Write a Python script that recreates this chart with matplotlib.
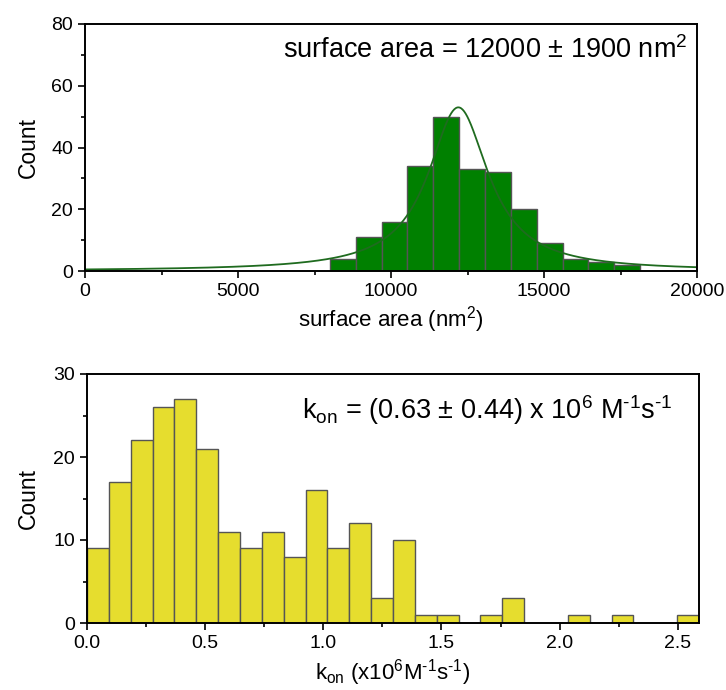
import numpy as np
import matplotlib
matplotlib.use('Agg')
import matplotlib.pyplot as plt
from matplotlib.ticker import MultipleLocator

plt.rcParams['font.family'] = ['Liberation Sans', 'DejaVu Sans']
plt.rcParams['mathtext.default'] = 'regular'

# top histogram: surface area
area_start = 8000
area_width = 845
area_counts = [4, 11, 16, 34, 50, 33, 32, 20, 9, 4, 3, 2]
# Lorentz fit parameters
fit_xc = 12200
fit_w = 1200
fit_amp = 53

# bottom histogram: k_on
kon_width = 0.0925
kon_counts = [9, 17, 22, 26, 27, 21, 11, 9, 11, 8, 16, 9, 12, 3, 10,
              1, 1, 0, 1, 3, 0, 0, 1, 0, 1, 0, 0, 1]

fig = plt.figure(figsize=(7.26, 6.9), dpi=100)
ax1 = fig.add_axes([85/726, 1-271/690, 612/726, 247/690])
ax2 = fig.add_axes([87/726, 1-623/690, 612/726, 249/690])

# --- top panel
left = area_start + area_width*np.arange(len(area_counts))
ax1.bar(left, area_counts, width=area_width, align='edge',
        color='#008000', edgecolor='#555555', linewidth=1)
xs = np.linspace(0, 20000, 800)
ys = fit_amp*fit_w**2/((xs-fit_xc)**2 + fit_w**2)
ax1.plot(xs, ys, color='#1f6b1f', lw=1.3)
ax1.set_xlim(0, 20000)
ax1.set_ylim(0, 80)
ax1.xaxis.set_major_locator(MultipleLocator(5000))
ax1.xaxis.set_minor_locator(MultipleLocator(2500))
ax1.yaxis.set_major_locator(MultipleLocator(20))
ax1.yaxis.set_minor_locator(MultipleLocator(10))
ax1.set_xlabel('surface area (nm$^2$)', fontsize=16, labelpad=3)
ax1.set_ylabel('Count', fontsize=16.5, labelpad=8)
ax1.text(0.985, 0.895, 'surface area = 12000 ± 1900 nm$^2$', transform=ax1.transAxes,
         ha='right', va='center', fontsize=19.5)

# --- bottom panel
kleft = kon_width*np.arange(len(kon_counts))
ax2.bar(kleft, kon_counts, width=kon_width, align='edge',
        color='#e6dd2e', edgecolor='#555555', linewidth=1)
ax2.set_xlim(0, kon_width*len(kon_counts))
ax2.set_ylim(0, 30)
ax2.xaxis.set_major_locator(MultipleLocator(0.5))
ax2.xaxis.set_minor_locator(MultipleLocator(0.25))
ax2.yaxis.set_major_locator(MultipleLocator(10))
ax2.yaxis.set_minor_locator(MultipleLocator(5))
ax2.xaxis.set_major_formatter(plt.FormatStrFormatter('%.1f'))
ax2.set_xlabel('k$_{on}$ (x10$^6$M$^{\u20101}$s$^{\u20101}$)', fontsize=16, labelpad=4)
ax2.set_ylabel('Count', fontsize=16.5, labelpad=10)
ax2.text(0.956, 0.855, 'k$_{on}$ = (0.63 ± 0.44) x 10$^6$ M$^{\u20101}$s$^{\u20101}$',
         transform=ax2.transAxes, ha='right', va='center', fontsize=19.5)

for ax in (ax1, ax2):
    for s in ax.spines.values():
        s.set_linewidth(1.4)
    ax.tick_params(which='major', direction='out', length=5, width=1.2, labelsize=14)
    ax.tick_params(which='minor', direction='out', length=3, width=1.2)

fig.savefig('out.png', dpi=100)
